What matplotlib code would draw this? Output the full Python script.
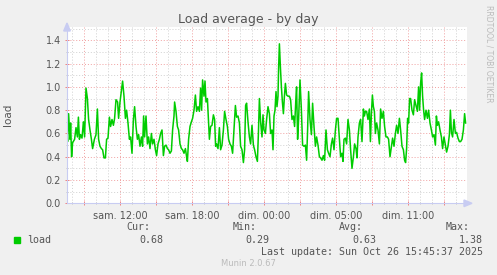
"""
Munin load average (by day) - gjenskaping med matplotlib.
"""

import numpy as np
import matplotlib
matplotlib.use('Agg')
import matplotlib.pyplot as plt

# minutter etter vinduets start (07:33 CEST lørdag), og load-verdier
minutes = [0, 3, 8, 15, 18, 23, 28, 38, 45, 52, 57, 62, 68, 75, 82, 88, 95, 102, 108, 115,
           122, 128, 137, 145, 152, 158, 165, 172, 178, 185, 192, 198, 205, 212, 218, 225,
           232, 238, 245, 253, 258, 265, 272, 278, 285, 292, 298, 305, 312, 318, 325, 332,
           338, 345, 352, 358, 365, 372, 378, 383, 388, 395, 402, 408, 415, 422, 428, 435,
           442, 448, 455, 462, 468, 475, 482, 488, 495, 502, 508, 515, 522, 528, 535, 538,
           545, 552, 558, 565, 572, 578, 585, 592, 598, 602, 608, 615, 622, 628, 635, 642,
           648, 655, 662, 668,
           673, 678, 685, 690, 695, 702, 707, 712, 718, 725, 732, 738, 743, 748, 755, 762,
           768, 775, 782, 788, 795, 802, 808, 815, 822, 828, 835, 842, 848, 855, 862, 868,
           875, 882, 888, 893, 898, 905, 912, 918, 925, 932, 938, 945, 952, 957, 962, 968,
           975, 980, 985, 992, 998, 1005, 1012, 1018, 1025, 1030, 1035, 1040, 1045, 1050,
           1055, 1058, 1062, 1067, 1072, 1077, 1082, 1087, 1092, 1098, 1105, 1112, 1118,
           1125, 1132, 1138, 1145, 1148, 1153, 1158, 1165, 1172, 1178, 1185, 1192, 1198,
           1203, 1208, 1215, 1222, 1228, 1235, 1242, 1248, 1255, 1262, 1268, 1275, 1282,
           1288, 1295, 1302, 1308, 1315, 1322, 1328, 1335, 1342,
           1348, 1355, 1362, 1368, 1375, 1380, 1385, 1392, 1398, 1405, 1412, 1418, 1425,
           1432, 1438, 1445, 1450, 1455, 1462, 1468, 1475, 1482, 1487, 1492, 1498, 1505,
           1512, 1517, 1522, 1527, 1532, 1537, 1542, 1548, 1555, 1562, 1568, 1575, 1582,
           1588, 1595, 1602, 1608, 1615, 1622, 1628, 1635, 1642, 1648, 1655, 1662, 1668,
           1675, 1682, 1688, 1693, 1698, 1703, 1708, 1713, 1718, 1725, 1732, 1738, 1745,
           1752, 1758, 1763, 1768, 1773, 1778, 1783, 1788, 1795, 1802, 1808, 1815, 1822,
           1828, 1835, 1842, 1847, 1852, 1858, 1865, 1872, 1878, 1885, 1892, 1898, 1905,
           1912, 1917, 1922, 1928, 1935, 1942, 1948, 1955, 1962, 1968, 1975, 1982, 1988, 1993]

load = [0.60, 0.53, 0.77, 0.55, 0.69, 0.40, 0.52, 0.55, 0.65, 0.57, 0.74, 0.55, 0.59, 0.56, 0.70,
        0.57, 0.99, 0.90, 0.72, 0.63, 0.55, 0.47, 0.55, 0.59, 0.81, 0.55, 0.49, 0.47, 0.46,
        0.39, 0.39, 0.55, 0.56, 0.74, 0.66, 0.72, 0.67, 0.73, 0.89, 0.87, 0.73, 0.87, 0.97,
        1.05, 0.92, 0.73, 0.80, 0.69, 0.55, 0.57, 0.43, 0.72, 0.83, 0.66, 0.55, 0.59, 0.49,
        0.57, 0.49, 0.75, 0.57, 0.75, 0.51, 0.57, 0.47, 0.60, 0.51, 0.55, 0.46, 0.41, 0.51,
        0.55, 0.60, 0.63, 0.41, 0.49, 0.50, 0.47, 0.46, 0.43, 0.45, 0.63, 0.75, 0.87, 0.79,
        0.66, 0.63, 0.51, 0.47, 0.46, 0.43, 0.47, 0.40, 0.36, 0.55, 0.66, 0.70, 0.73, 0.80,
        0.93, 0.79, 0.83, 0.79, 0.99,
        0.80, 1.06, 0.92, 1.05, 0.87, 0.90, 0.73, 0.55, 0.66, 0.67, 0.76, 0.72, 0.49, 0.51,
        0.47, 0.65, 0.46, 0.50, 0.63, 0.79, 0.72, 0.66, 0.55, 0.51, 0.49, 0.43, 0.63, 0.84,
        0.74, 0.75, 0.69, 0.49, 0.46, 0.35, 0.46, 0.84, 0.86, 0.70, 0.57, 0.51, 0.67, 0.50,
        0.46, 0.40, 0.36, 0.60, 0.90, 0.70, 0.57, 0.76, 0.63, 0.60, 0.72, 0.83, 0.77, 0.60,
        0.63, 0.46, 0.75, 0.80, 0.96, 0.83, 0.92, 1.16, 1.37, 1.17, 1.00, 0.87, 0.77, 0.92,
        1.03, 0.93, 0.92, 0.92, 0.89, 0.72, 0.75, 0.66, 0.92, 1.00, 0.55, 0.72, 1.06, 0.80,
        0.50, 0.49, 0.50, 0.37, 0.63, 0.96, 0.72, 0.59, 0.86, 0.66, 0.49, 0.57, 0.50, 0.40,
        0.39, 0.37, 0.41, 0.37, 0.63, 0.46, 0.43, 0.40, 0.51, 0.56, 0.46, 0.63,
        0.73, 0.73, 0.55, 0.40, 0.43, 0.36, 0.55, 0.56, 0.51, 0.72, 0.63, 0.46, 0.30, 0.40,
        0.51, 0.47, 0.39, 0.57, 0.69, 0.72, 0.53, 0.81, 0.75, 0.79, 0.79, 0.72, 0.81, 0.53,
        0.77, 0.93, 0.83, 0.79, 0.60, 0.69, 0.63, 0.51, 0.81, 0.73, 0.79, 0.66, 0.57, 0.57,
        0.55, 0.40, 0.49, 0.56, 0.49, 0.60, 0.67, 0.60, 0.73, 0.63, 0.49, 0.46, 0.37, 0.35,
        0.47, 0.73, 0.69, 0.90, 0.90, 0.80, 0.76, 0.89, 0.84, 0.79, 1.00, 0.80, 1.03, 1.12,
        0.92, 0.80, 0.72, 0.80, 0.73, 0.80, 0.69, 0.63, 0.57, 0.59, 0.50, 0.75, 0.67, 0.70,
        0.63, 0.57, 0.47, 0.57, 0.50, 0.44, 0.49, 0.59, 0.80, 0.61, 0.57, 0.72, 0.60, 0.61,
        0.56, 0.53, 0.53, 0.55, 0.63, 0.77, 0.69]

start_hour = 5.56          # vinduets start, timer etter lør 00:00 UTC
window_minutes = 2000
label_hours = [10, 16, 22, 28, 34]
label_texts = ["sam. 12:00", "sam. 18:00", "dim. 00:00", "dim. 05:00", "dim. 11:00"]

stat_names = ["Cur:", "Min:", "Avg:", "Max:"]
stat_values = ["0.68", "0.29", "0.63", "1.38"]
last_update = "Last update: Sun Oct 26 15:45:37 2025"

BG = '#F0F0F0'
AXIS = '#C8CCF2'
TXT = '#555555'
MONO = 'DejaVu Sans Mono'

fig = plt.figure(figsize=(4.97, 2.75), dpi=100, facecolor=BG)
W, H = 497, 275
ax = fig.add_axes([67 / W, (H - 203.3) / H, 400 / W, 176 / H])
ax.set_facecolor('white')

hours = start_hour + np.array(minutes) / 60.0
ax.plot(hours, load, color='#00CC00', linewidth=1.1)

ax.set_xlim(start_hour, start_hour + window_minutes / 60.0)
ax.set_ylim(0, 1.512)

ax.set_xticks(np.arange(7, 39, 3))
ax.set_xticks(np.arange(6, 39, 1), minor=True)
ax.set_xticklabels([label_texts[label_hours.index(h)] if h in label_hours else ''
                    for h in np.arange(7, 39, 3)])
ax.set_yticks(np.arange(0, 1.41, 0.2))
ax.set_yticks(np.arange(0, 1.51, 0.1), minor=True)
ax.set_yticklabels([f"{v:.1f}" for v in np.arange(0, 1.41, 0.2)])

ax.grid(True, which='minor', color='#D0D0D0', linestyle=(0, (1, 2)), linewidth=0.7)
ax.grid(True, which='major', color='#F0A0A0', linestyle=(0, (1, 2)), linewidth=0.7)
ax.set_axisbelow(True)

ax.tick_params(axis='both', which='major', labelsize=7, labelcolor=TXT, color='#F08080',
               length=2.5, width=0.7, direction='inout')
ax.tick_params(axis='both', which='minor', color='#BBBBBB', length=2, width=0.6,
               direction='inout')
ax.tick_params(axis='x', which='major', pad=4)
ax.tick_params(axis='y', which='major', pad=3)

for s in ['top', 'right']:
    ax.spines[s].set_visible(False)
for s in ['left', 'bottom']:
    ax.spines[s].set_color(AXIS)
    ax.spines[s].set_linewidth(0.8)

# pilspisser på aksene
fig.patches.append(plt.Polygon([[464 / W, (H - 200) / H], [472 / W, (H - 203.3) / H],
                                [464 / W, (H - 206.6) / H]], closed=True, color=AXIS,
                               transform=fig.transFigure, figure=fig))
fig.patches.append(plt.Polygon([[63.7 / W, (H - 31) / H], [67 / W, (H - 23) / H],
                                [70.3 / W, (H - 31) / H]], closed=True, color=AXIS,
                               transform=fig.transFigure, figure=fig))

fig.text(248 / W, 1 - 20 / H, "Load average - by day", ha='center', va='center',
         fontsize=9, color=TXT)
fig.text(8 / W, 1 - 115 / H, "load", rotation=90, ha='center', va='center',
         fontsize=7.5, color=TXT)
fig.text(489 / W, 1 - 5 / H, "RRDTOOL / TOBI OETIKER", rotation=270, ha='center',
         va='top', fontsize=5.5, color='#BBBBBB')

# legende
fig.patches.append(plt.Rectangle((14 / W, 1 - 243 / H), 6 / W, 6 / H, color='#00CC00',
                                 transform=fig.transFigure, figure=fig))
fig.text(27 / W, 1 - 240 / H, "load", ha='left', va='center', family=MONO,
         fontsize=7.2, color=TXT)
name_right = [150, 257, 363, 470]
value_right = [163, 269, 376, 483]
for name, val, xn, xv in zip(stat_names, stat_values, name_right, value_right):
    fig.text(xn / W, 1 - 227.5 / H, name, ha='right', va='center', family=MONO,
             fontsize=7.2, color=TXT)
    fig.text(xv / W, 1 - 240 / H, val, ha='right', va='center', family=MONO,
             fontsize=7.2, color=TXT)
fig.text(483 / W, 1 - 252 / H, last_update, ha='right', va='center', family=MONO,
         fontsize=7.2, color=TXT)
fig.text(248 / W, 1 - 264 / H, "Munin 2.0.67", ha='center', va='center',
         fontsize=6, color='#BBBBBB')

fig.savefig('out.png', dpi=100, facecolor=BG)
plt.close(fig)
